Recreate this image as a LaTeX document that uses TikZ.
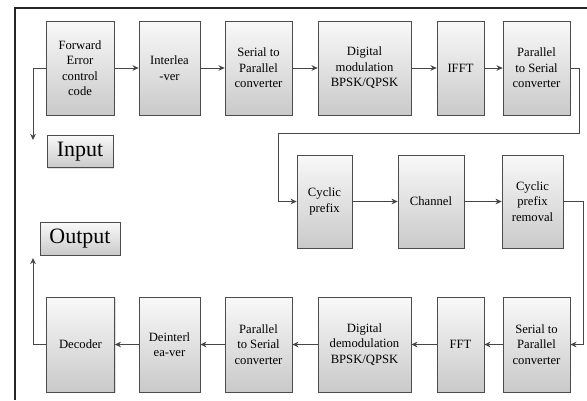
\documentclass[tikz,border=0pt]{standalone}
\usepackage{fontspec}
\setmainfont{Liberation Serif}
\usetikzlibrary{arrows.meta,shadows}

\begin{document}
\begin{tikzpicture}
	[x=0.02cm,y=-0.02cm,
	 blk/.style={draw=gray!60!black,top color=gray!5,bottom color=gray!42,
		drop shadow={opacity=0.25,shadow xshift=0.7pt,shadow yshift=-0.7pt},
		minimum width=#1,minimum height=1.88cm,inner sep=1pt,align=center,
		font=\fontsize{7.2}{8.8}\selectfont},
	 blk/.default=1.34cm,
	 iobox/.style={blk=#1,minimum height=0.65cm,font=\fontsize{12.5}{14}\selectfont},
	 flow/.style={draw=gray!55!black,line width=0.5pt,-{Stealth[length=3.5pt,width=3.2pt]}}]
	\useasboundingbox (0,0) rectangle (587,400);
	\draw[line width=0.9pt,gray!30!black] (15,400) -- (15,8) -- (587,8);
	% transmitter
	\node[blk=1.36cm] (fec)  at (80,68)    {Forward\\Error\\control\\code};
	\node[blk=1.22cm] (ilv)  at (169.5,68) {Interlea\\-ver};
	\node[blk]        (sp1)  at (258.5,68) {Serial to\\Parallel\\converter};
	\node[blk=1.86cm] (mod)  at (364.5,68) {Digital\\modulation\\BPSK/QPSK};
	\node[blk=0.94cm] (ifft) at (460.5,68) {IFFT};
	\node[blk]        (ps1)  at (536.5,68) {Parallel\\to Serial\\converter};
	\node[iobox=1.32cm] (inp) at (80,151.5) {Input};
	% channel
	\node[blk=1.1cm,minimum height=1.86cm]  (cp)   at (324.5,201.5) {Cyclic\\prefix};
	\node[blk=1.32cm,minimum height=1.86cm] (chan) at (431,201.5)   {Channel};
	\node[blk=1.22cm,minimum height=1.86cm] (cpr)  at (532.5,201.5) {Cyclic\\prefix\\removal};
	% receiver
	\node[blk,minimum height=1.9cm]        (sp2)   at (536.5,344.5) {Serial to\\Parallel\\converter};
	\node[blk=0.94cm,minimum height=1.9cm] (fft)   at (460.5,344.5) {FFT};
	\node[blk=1.86cm,minimum height=1.9cm] (demod) at (364.5,344.5) {Digital\\demodulation\\BPSK/QPSK};
	\node[blk,minimum height=1.9cm]        (ps2)   at (258.5,344.5) {Parallel\\to Serial\\converter};
	\node[blk=1.22cm,minimum height=1.9cm] (dil)   at (169.5,344.5) {Deinterl\\ea-ver};
	\node[blk=1.36cm,minimum height=1.9cm] (dec)   at (80.5,344.5)  {Decoder};
	\node[iobox=1.6cm] (outp) at (80,239) {Output};
	\coordinate (inend)  at (33,140);
	\coordinate (outend) at (33,258);
	\coordinate (turn)   at (278,133);
	% connectors
	\draw[flow] (fec.west) -| (inend);
	\draw[flow] (fec) -- (ilv);
	\draw[flow] (ilv) -- (sp1);
	\draw[flow] (sp1) -- (mod);
	\draw[flow] (mod) -- (ifft);
	\draw[flow] (ifft) -- (ps1);
	\draw[flow] (ps1.east) -- ++(9,0) |- (turn) |- (cp.west);
	\draw[flow] (cp) -- (chan);
	\draw[flow] (chan) -- (cpr);
	\draw[flow] (cpr.east) -- ++(20,0) |- (sp2.east);
	\draw[flow] (sp2) -- (fft);
	\draw[flow] (fft) -- (demod);
	\draw[flow] (demod) -- (ps2);
	\draw[flow] (ps2) -- (dil);
	\draw[flow] (dil) -- (dec);
	\draw[flow] (dec.west) -| (outend);
\end{tikzpicture}
\end{document}
